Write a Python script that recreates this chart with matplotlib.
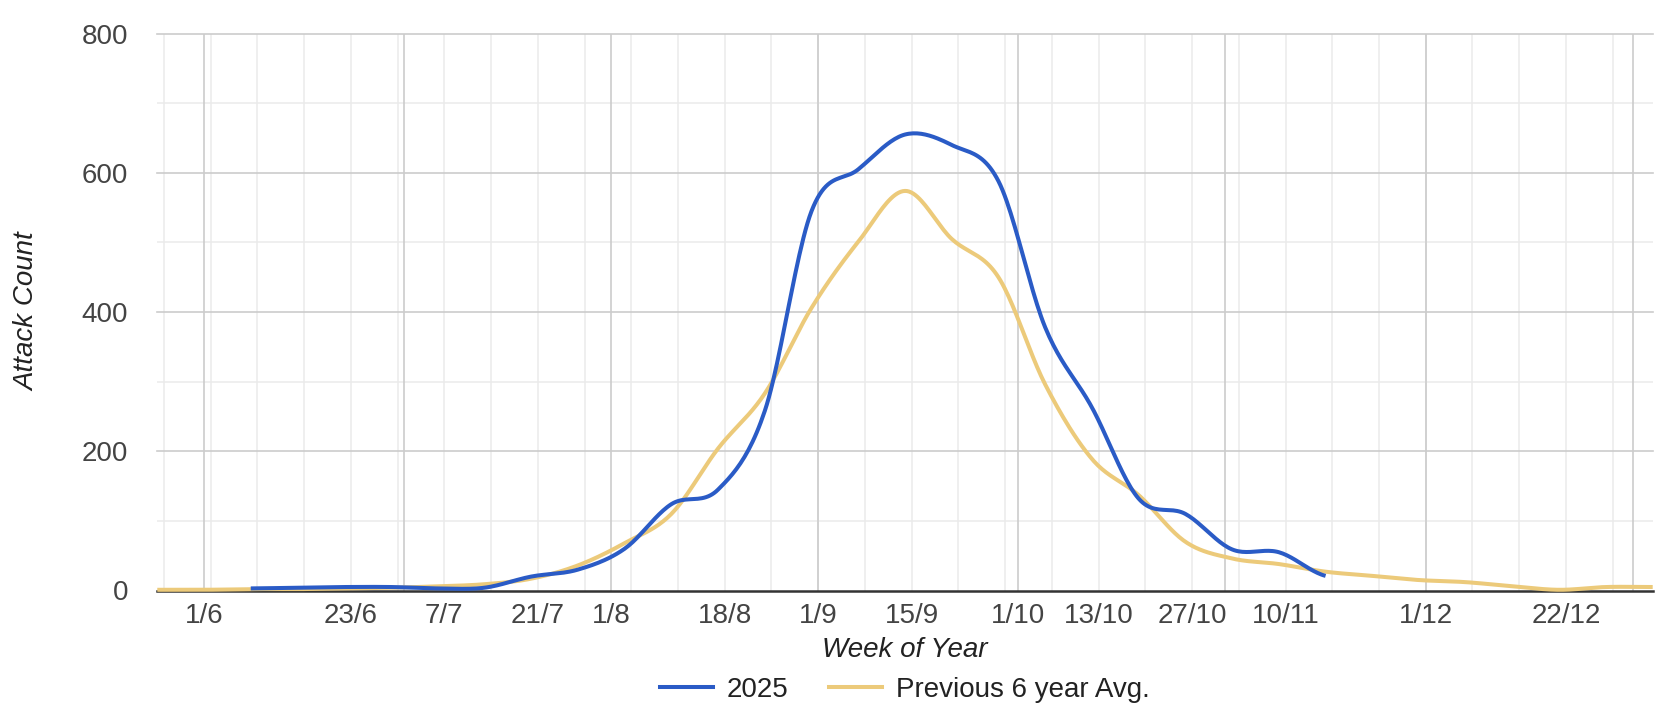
import numpy as np
import pandas as pd
import matplotlib
matplotlib.use("Agg")
import matplotlib.pyplot as plt
import matplotlib.dates as mdates
from matplotlib.lines import Line2D

plt.rcParams['font.family'] = ['Liberation Sans', 'DejaVu Sans']

# weekly points (Sundays)
weeks = ["2025-05-25", "2025-06-01", "2025-06-08", "2025-06-15", "2025-06-22",
         "2025-06-29", "2025-07-06", "2025-07-13", "2025-07-20", "2025-07-27",
         "2025-08-03", "2025-08-10", "2025-08-17", "2025-08-24", "2025-08-31",
         "2025-09-07", "2025-09-14", "2025-09-21", "2025-09-28", "2025-10-05",
         "2025-10-12", "2025-10-19", "2025-10-26", "2025-11-02", "2025-11-09",
         "2025-11-16", "2025-11-23", "2025-11-30", "2025-12-07", "2025-12-14",
         "2025-12-21", "2025-12-28", "2026-01-04"]

# 2025 season (data only from 8 June to 16 November)
attacks_2025 = [None, None, 3, 4, 5, 5, 3, 4, 20, 30,
                60, 124, 145, 258, 545, 605, 655, 640, 588, 378,
                263, 132, 110, 59, 55, 21]

prev_6yr_avg = [1, 1, 2, 2, 3, 4, 6, 9, 17, 36,
                68, 110, 204, 283, 406, 501, 574, 505, 450, 296,
                189, 137, 70, 46, 38, 27, 21, 15, 12, 6,
                1, 5, 5]

tick_dates = ["2025-06-01", "2025-06-23", "2025-07-07", "2025-07-21", "2025-08-01",
              "2025-08-18", "2025-09-01", "2025-09-15", "2025-10-01", "2025-10-13",
              "2025-10-27", "2025-11-10", "2025-12-01", "2025-12-22"]
tick_labels = ["1/6", "23/6", "7/7", "21/7", "1/8", "18/8", "1/9", "15/9",
               "1/10", "13/10", "27/10", "10/11", "1/12", "22/12"]

BLUE = "#2a5bc6"
GOLD = "#ecca7a"
FS = 20


def smooth(x, y, n=24):
    """Catmull-Rom curve through the points (for the smooth line look)."""
    x = np.asarray(x, float)
    y = np.asarray(y, float)
    px = np.concatenate([[2 * x[0] - x[1]], x, [2 * x[-1] - x[-2]]])
    py = np.concatenate([[y[0]], y, [y[-1]]])
    t = np.linspace(0, 1, n)[:-1]
    xs, ys = [], []
    for i in range(1, len(px) - 2):
        for p, out in ((px, xs), (py, ys)):
            p0, p1, p2, p3 = p[i - 1], p[i], p[i + 1], p[i + 2]
            out.extend(0.5 * (2 * p1 + (-p0 + p2) * t
                              + (2 * p0 - 5 * p1 + 4 * p2 - p3) * t ** 2
                              + (-p0 + 3 * p1 - 3 * p2 + p3) * t ** 3))
    xs.append(x[-1])
    ys.append(y[-1])
    return np.array(xs), np.array(ys)


dates = mdates.date2num(pd.to_datetime(weeks))

fig = plt.figure(figsize=(16.7, 7.2), dpi=100)
ax = fig.add_axes([157.3 / 1670, 1 - 590.5 / 720,
                   (1652.7 - 157.3) / 1670, (590.5 - 33.6) / 720])

x0 = mdates.date2num(pd.Timestamp("2025-05-25"))
x1 = mdates.date2num(pd.Timestamp("2026-01-04"))
ax.set_xlim(x0, x1)
ax.set_ylim(0, 800)

# grid: weekly (Mondays) light, monthly darker
mondays = mdates.date2num(pd.date_range("2025-05-26", "2026-01-03", freq="W-MON"))
months = mdates.date2num(pd.date_range("2025-06-01", "2026-01-01", freq="MS"))
ax.vlines(mondays, 0, 800, color="#ebebeb", lw=1.1, zorder=0)
ax.vlines(months, 0, 800, color="#cccccc", lw=1.2, zorder=0.5)
for v in range(100, 800, 200):
    ax.axhline(v, color="#ebebeb", lw=1.1, zorder=0)
for v in range(200, 801, 200):
    ax.axhline(v, color="#cccccc", lw=1.2, zorder=0.5, clip_on=False)
ax.axhline(0, color="#333333", lw=1.8, zorder=2, clip_on=False)

# series
b = [(d, v) for d, v in zip(dates, attacks_2025) if v is not None]
bx, by = smooth([p[0] for p in b], [p[1] for p in b])
gx, gy = smooth(dates, prev_6yr_avg)
ax.plot(gx, gy, color=GOLD, lw=2.9, zorder=3, clip_on=False, solid_capstyle='butt')
ax.plot(bx, by, color=BLUE, lw=2.9, zorder=4, clip_on=False, solid_capstyle='butt')

for s in ax.spines.values():
    s.set_visible(False)

ax.set_xticks(mdates.date2num(pd.to_datetime(tick_dates)))
ax.set_xticklabels(tick_labels)
ax.set_yticks(range(0, 801, 200))
ax.tick_params(axis='both', length=0, labelsize=FS, labelcolor="#444444")
ax.tick_params(axis='x', pad=9)
ax.tick_params(axis='y', pad=21)

fig.text(905 / 1670, 1 - 650 / 720, "Week of Year", ha='center', va='center',
         fontsize=FS, style='italic', color="#222222")
fig.text(27 / 1670, 1 - 312 / 720, "Attack Count", ha='center', va='center',
         rotation=90, fontsize=FS, style='italic', color="#222222")

handles = [Line2D([], [], color=BLUE, lw=2.9), Line2D([], [], color=GOLD, lw=2.9)]
fig.legend(handles, ["2025", "Previous 6 year Avg."], loc='center',
           bbox_to_anchor=(905 / 1670, 1 - 690 / 720), ncol=2, frameon=False,
           fontsize=FS, handlelength=1.9, handletextpad=0.5, columnspacing=1.45,
           labelcolor="#222222")

fig.savefig("out.png", dpi=100, facecolor="white")
